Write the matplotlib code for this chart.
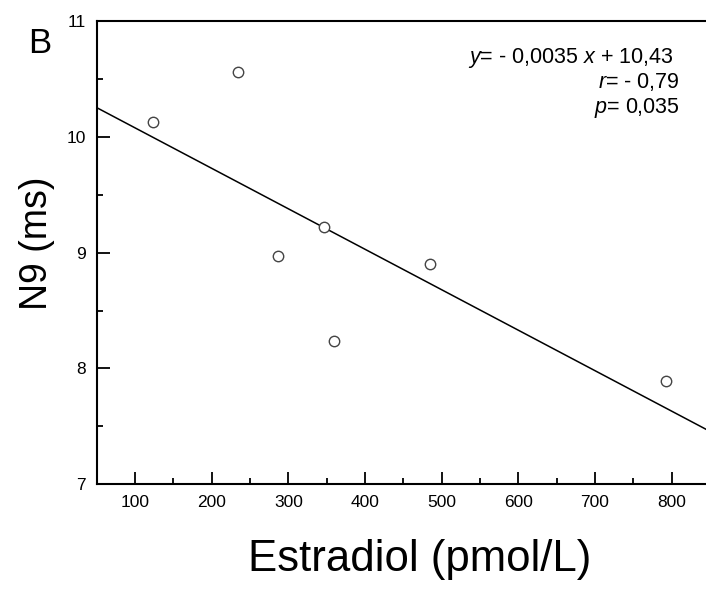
import numpy as np
import matplotlib.pyplot as plt
from matplotlib.ticker import MultipleLocator

plt.rcParams['font.family'] = ['Liberation Sans', 'DejaVu Sans']
plt.rcParams['mathtext.fontset'] = 'custom'
plt.rcParams['mathtext.rm'] = 'Liberation Sans'
plt.rcParams['mathtext.it'] = 'Liberation Sans:italic'

# data
estradiol = [123, 234, 287, 347, 359, 485, 792]
n9 = [10.13, 10.56, 8.97, 9.22, 8.24, 8.90, 7.89]

# regression shown in the chart
slope = -0.0035
intercept = 10.43
fit_range = [50, 850]

fig = plt.figure(figsize=(7.06, 5.92), dpi=100)
ax = fig.add_axes([0.137, 0.1824, 0.8687, 0.7813])

xs = np.array(fit_range)
ax.plot(xs, slope * xs + intercept, color='black', lw=1.1)
ax.plot(estradiol, n9, 'o', ms=7.5, mfc='white', mec='#444444', mew=1.0)

ax.set_xticks(range(100, 900, 100))
ax.xaxis.set_minor_locator(MultipleLocator(50))
ax.yaxis.set_major_locator(MultipleLocator(1))
ax.yaxis.set_minor_locator(MultipleLocator(0.5))
ax.set_xlim(50, 850)
ax.set_ylim(7, 11)

ax.tick_params(which='both', direction='in', top=False, right=False, width=1.3)
ax.tick_params(which='major', length=9, labelsize=12.5, pad=8)
ax.tick_params(which='minor', length=4.5)
for s in ax.spines.values():
    s.set_linewidth(1.5)

fig.text(420 / 706, 1 - 560 / 592, 'Estradiol (pmol/L)', fontsize=31.5,
         ha='center', va='center')
fig.text(37 / 706, 1 - 243 / 592, 'N9 (ms)', fontsize=27, rotation=90,
         ha='center', va='center')
fig.text(28 / 706, 1 - 53 / 592, 'B', fontsize=25, ha='left', va='baseline')

fig.text(673 / 706, 1 - 63 / 592, r'$\mathit{y}$= - 0,0035 $\mathit{x}$ + 10,43',
         fontsize=15.5, ha='right', va='baseline')
fig.text(680 / 706, 1 - 88 / 592, r'$\mathit{r}$= - 0,79',
         fontsize=15.5, ha='right', va='baseline')
fig.text(680 / 706, 1 - 113 / 592, r'$\mathit{p}$= 0,035',
         fontsize=15.5, ha='right', va='baseline')

fig.savefig('out.png', dpi=100)
